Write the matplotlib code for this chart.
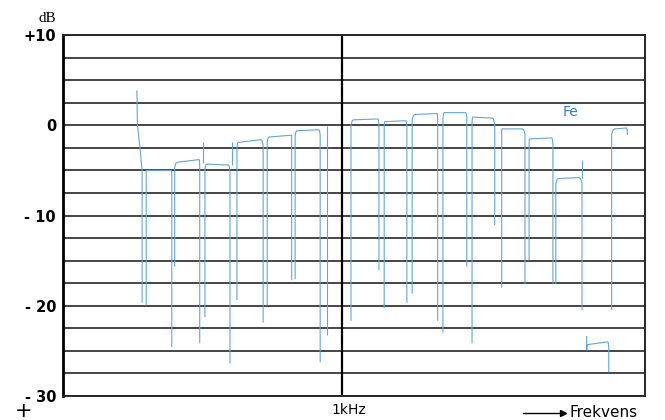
import matplotlib.pyplot as plt
import numpy as np

# position along the frequency sweep, 0..100 across the chart (1 kHz at 48)
seg_start = [14.3, 19.6, 24.7, 30.1, 35.4, 40.2, 49.9, 55.3, 60.5, 65.5, 70.4, 75.4, 80.2, 85.1, 90.2, 94.8]
seg_end = [18.6, 23.4, 28.4, 34.0, 39.3, 44.0, 54.1, 58.9, 64.3, 69.2, 73.7, 79.0, 84.0, 88.7, 93.6, 96.9]
level_start = [-5.0, -4.1, -4.3, -1.9, -1.3, -0.6, 0.6, 0.4, 1.2, 1.4, 0.9, -0.4, -1.5, -5.9, -24.3, -0.4]
level_end = [-5.0, -3.8, -4.4, -1.6, -1.1, -0.5, 0.7, 0.5, 1.3, 1.4, 0.8, -0.4, -1.4, -5.8, -24.0, -0.3]

# leg going up into each plateau, and leg dropping out of it
rise_x = [14.3, 19.2, 24.4, 29.9, 35.1, 39.9, 49.5, 55.2, 60.0, 65.3, 70.3, 75.4, 80.1, 84.7, 90.0, 94.3]
rise_depth = [-19.9, -15.6, -21.2, -19.3, -19.9, -17.0, -21.6, -20.2, -18.6, -22.9, -24.1, -17.9, -14.9, -17.5, -23.4, -20.4]
fall_x = [18.7, 23.5, 28.7, 34.4, 39.3, 44.2, 54.3, 59.1, 64.4, 69.4, 74.2, 79.4, 84.2, 89.2, 93.8, 97.0]
fall_depth = [-24.5, -24.1, -26.3, -21.8, -17.1, -26.2, -16.0, -19.6, -21.6, -15.6, -11.0, -17.5, -17.5, -20.4, -27.3, -1.0]

# start-up transient of the recorder pen
lead_x = [12.7, 12.8, 13.2, 13.6, 13.6]
lead_y = [3.8, 0.0, -2.3, -5.0, -19.6]

# stray pen strokes (x, top, bottom)
stroke_x = [24.1, 29.0, 45.4, 89.2]
stroke_top = [-1.9, -1.8, -0.1, -3.8]
stroke_bottom = [-4.2, -4.4, -23.2, -5.8]

y_ticks = [10, 0, -10, -20, -30]
y_labels = ['+10', '0', '- 10', '- 20', '- 30']

trace = '#62a6d6'
ink = '#262626'

fig = plt.figure(figsize=(6.65, 4.2), dpi=100)
ax = fig.add_axes([0.0947, 0.0571, 0.875, 0.8595])
ax.set_xlim(0, 100)
ax.set_ylim(-30, 10)

for y in np.arange(-30, 10.01, 2.5):
    ax.axhline(y, color=ink, lw=1.2, zorder=1)
ax.axvline(48, color='black', lw=1.6, zorder=1)

for i in range(len(seg_start)):
    # corners of the pen trace are slightly rounded
    xs = [rise_x[i], rise_x[i], (rise_x[i] + seg_start[i]) / 2, seg_start[i], seg_end[i],
          (seg_end[i] + fall_x[i]) / 2, fall_x[i], fall_x[i]]
    ys = [rise_depth[i], level_start[i] - 0.6, level_start[i] - 0.1, level_start[i], level_end[i],
          level_end[i] - 0.1, level_end[i] - 0.6, fall_depth[i]]
    ax.plot(xs, ys, color=trace, lw=0.8, zorder=3)

ax.plot(lead_x, lead_y, color=trace, lw=0.8, zorder=3)
ax.vlines(stroke_x, stroke_bottom, stroke_top, color=trace, lw=0.8, zorder=3)

ax.text(87.3, 1.45, 'Fe', color='#2f7fd0', fontsize=10, ha='center', va='center')

ax.set_xticks([])
ax.set_yticks(y_ticks)
ax.set_yticklabels(y_labels, fontsize=10.5, fontweight='bold')
ax.tick_params(axis='y', length=0, pad=5)
for side in ['left', 'right', 'top', 'bottom']:
    ax.spines[side].set_color(ink)
    ax.spines[side].set_linewidth(1.4)
ax.spines['left'].set_color('black')
ax.spines['left'].set_linewidth(2)

fig.text(0.071, 0.957, 'dB', family='Liberation Serif', fontsize=11, ha='center', va='center')
fig.text(0.525, 0.024, '1kHz', fontsize=10, ha='center', va='center')
fig.text(0.857, 0.017, 'Frekvens', fontsize=11, ha='left', va='center')
fig.text(0.035, 0.022, '+', fontsize=15, ha='center', va='center')
fig.add_artist(plt.Line2D([0.786, 0.845], [0.017, 0.017], color='black', lw=1))
fig.add_artist(plt.Line2D([0.847], [0.017], marker='>', color='black', markersize=4))

fig.savefig('out.png', dpi=100, facecolor='white')
